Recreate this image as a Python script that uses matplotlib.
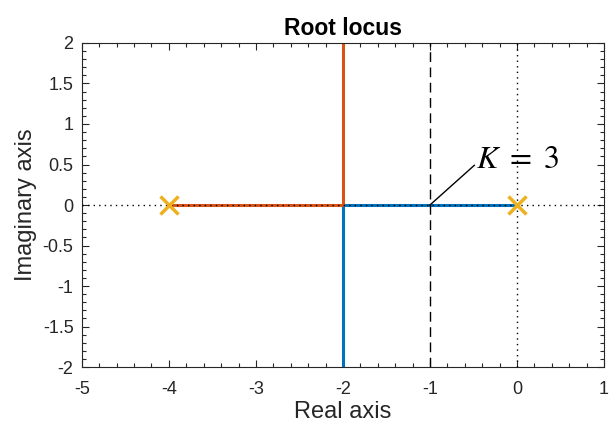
import matplotlib
matplotlib.use("Agg")
import matplotlib.pyplot as plt
from matplotlib.ticker import MultipleLocator

plt.rcParams['font.family'] = ['Liberation Sans', 'DejaVu Sans']
plt.rcParams['mathtext.fontset'] = 'stix'

# Data
poles = [0, -4]
branch1_re = [0, -2, -2]
branch1_im = [0, 0, -2]
branch2_re = [-4, -2, -2]
branch2_im = [0, 0, 2]
k_marker_re = -1
k_label = r'$K\ =\ 3$'
xlim = (-5, 1)
ylim = (-2, 2)
xticks = [-5, -4, -3, -2, -1, 0, 1]
yticks = [-2, -1.5, -1, -0.5, 0, 0.5, 1, 1.5, 2]

blue = '#0072BD'
red = '#D95319'
yellow = '#EDB120'
dark = '#262626'

fig = plt.figure(figsize=(6.11, 4.24), dpi=100)
ax = fig.add_axes([0.134, 0.1344, 0.8545, 0.7642])

ax.plot(branch1_re, branch1_im, color=blue, lw=2.2, zorder=2)
ax.plot(branch2_re, branch2_im, color=red, lw=2.2, zorder=2)
ax.axhline(0, color='black', lw=1, ls=(0, (1, 3)), zorder=3)
ax.axvline(0, color='black', lw=1, ls=(0, (1, 3)), zorder=3)
ax.axvline(k_marker_re, color='black', lw=1, ls=(0, (7, 4)), zorder=3)
ax.plot(poles, [0]*len(poles), 'x', color=yellow, ms=13, mew=2.5, zorder=4, ls='none')

# K annotation: leader line and label
ax.plot([k_marker_re, -0.49], [0, 0.49], color='black', lw=1, zorder=5)
ax.text(-0.475, 0.555, k_label, fontsize=23, ha='left', va='center', zorder=5)

ax.set_xlim(*xlim)
ax.set_ylim(*ylim)
ax.set_xticks(xticks)
ax.set_xticklabels([str(t) for t in xticks])
ax.set_yticks(yticks)
ax.set_yticklabels([('%g' % t) for t in yticks])
ax.xaxis.set_minor_locator(MultipleLocator(0.2))
ax.yaxis.set_minor_locator(MultipleLocator(0.1))
ax.tick_params(which='both', direction='in', top=True, right=True, colors=dark,
               labelsize=13, width=0.8)
ax.tick_params(which='major', length=5)
ax.tick_params(which='minor', length=3)
ax.tick_params(axis='x', which='major', pad=10)
ax.tick_params(axis='y', which='major', pad=6)
for s in ax.spines.values():
    s.set_color(dark)
    s.set_linewidth(0.8)

ax.set_xlabel('Real axis', fontsize=17, color=dark, labelpad=2)
ax.set_ylabel('Imaginary axis', fontsize=17, color=dark, labelpad=4)
ax.set_title('Root locus', fontsize=16.5, fontweight='bold', color='black', pad=6)

fig.savefig('out.png', dpi=100)
